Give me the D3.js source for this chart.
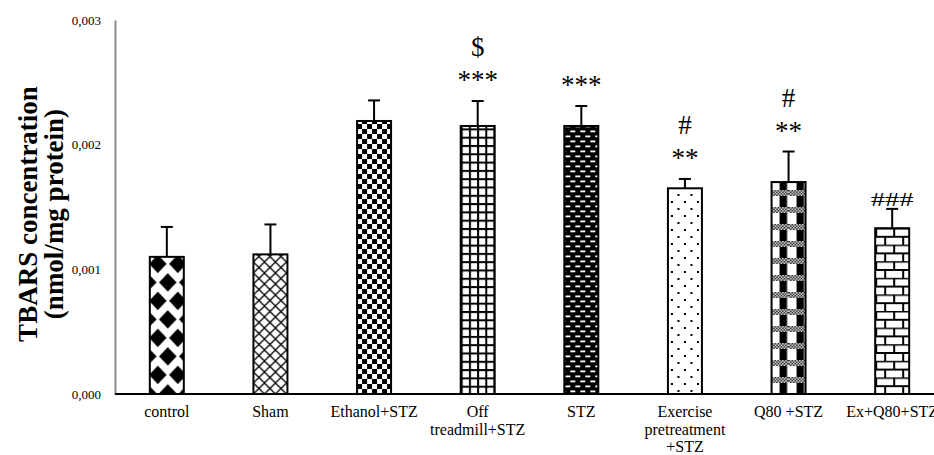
<!DOCTYPE html>
<html><head><meta charset="utf-8">
<script src="https://cdn.jsdelivr.net/npm/d3@7"></script>
<style>body{margin:0;background:#fff}svg{display:block}</style>
</head><body><svg id="chart" width="934" height="455"></svg>
<script>
const categories = ["control","Sham","Ethanol+STZ","Off treadmill+STZ","STZ","Exercise pretreatment +STZ","Q80 +STZ","Ex+Q80+STZ"];
const labelLines = [["control"],["Sham"],["Ethanol+STZ"],["Off","treadmill+STZ"],["STZ"],["Exercise","pretreatment","+STZ"],["Q80 +STZ"],["Ex+Q80+STZ"]];
const means  = [0.00110, 0.00112, 0.00219, 0.00215, 0.00215, 0.00165, 0.00170, 0.00133];
const errors = [0.00024, 0.00024, 0.000165, 0.00020, 0.00016, 0.000075, 0.000245, 0.000155];
const stars  = ["", "", "", "***", "***", "**", "**", ""];
const marks2 = ["", "", "", "$", "", "#", "#", "###"];
const yTicks = [0, 0.001, 0.002, 0.003];
const yTickLabels = ["0,000", "0,001", "0,002", "0,003"];

const svg = d3.select("#chart");
const serif = "'Liberation Serif','Times New Roman',serif";
const mLeft = 115, mRight = 944, mTop = 20, mBottom = 394;

const x = d3.scaleBand().domain(categories).range([mLeft, mRight]).paddingInner(0.672).paddingOuter(0.336);
const y = d3.scaleLinear().domain([0, 0.003]).range([mBottom, mTop]);

const defs = svg.append("defs");
function pat(id, w, h, i, oy) {
  const bx = x(categories[i]);
  return defs.append("pattern").attr("id", id).attr("patternUnits", "userSpaceOnUse")
    .attr("x", bx).attr("y", oy === undefined ? mBottom : oy).attr("width", w).attr("height", h);
}
// 0 diamond
{ const p = pat("p0", 20, 37, 0, y(means[0]) - 2);
  p.append("rect").attr("width",20).attr("height",37).attr("fill","#fff");
  const dia = (cx,cy)=>`M${cx-8.8},${cy}L${cx},${cy-9.2}L${cx+8.8},${cy}L${cx},${cy+9.2}Z`;
  [[8,9],[18,27.5],[-2,27.5],[28,9],[8,46],[18,-9.5],[-2,-9.5]].forEach(c=>p.append("path").attr("d",dia(c[0],c[1])).attr("fill","#000"));
}
// 1 crosshatch
{ const p = pat("p1", 11, 11, 1);
  p.append("rect").attr("width",11).attr("height",11).attr("fill","#fff");
  p.append("path").attr("d","M-1,-1L12,12M12,-1L-1,12").attr("stroke","#000").attr("stroke-width",1.3);
}
// 2 checker
{ const p = pat("p2", 10, 10, 2);
  p.append("rect").attr("width",10).attr("height",10).attr("fill","#fff");
  p.append("rect").attr("width",5).attr("height",5).attr("fill","#000");
  p.append("rect").attr("x",5).attr("y",5).attr("width",5).attr("height",5).attr("fill","#000");
}
// 3 grid
{ const p = pat("p3", 8.2, 8.3, 3);
  p.append("rect").attr("width",8.2).attr("height",8.3).attr("fill","#fff");
  p.append("rect").attr("width",8.2).attr("height",2).attr("fill","#000");
  p.append("rect").attr("width",2).attr("height",8.3).attr("fill","#000");
}
// 4 dash (black with white dashes)
{ const p = pat("p4", 10, 10, 4);
  p.append("rect").attr("width",10).attr("height",10).attr("fill","#000");
  p.append("rect").attr("x",1).attr("y",1.5).attr("width",5).attr("height",1.8).attr("fill","#fff");
  p.append("rect").attr("x",6).attr("y",6.5).attr("width",5).attr("height",1.8).attr("fill","#fff");
  p.append("rect").attr("x",-4).attr("y",6.5).attr("width",5).attr("height",1.8).attr("fill","#fff");
}
// 5 dots
{ const p = pat("p5", 13, 14, 5);
  p.append("rect").attr("width",13).attr("height",14).attr("fill","#fff");
  p.append("rect").attr("x",3).attr("y",3).attr("width",2).attr("height",2).attr("fill","#000");
  p.append("rect").attr("x",9.5).attr("y",10).attr("width",2).attr("height",2).attr("fill","#000");
}
// 6 plaid
{ const p = pat("p6", 17, 17, 6);
  p.append("rect").attr("width",17).attr("height",17).attr("fill","#fff");
  for (let i = 0; i < 17; i += 1.5) for (let j = 0; j < 6; j += 1.5) {
    if ((Math.round(i/1.5) + Math.round(j/1.5)) % 2 === 0)
      p.append("rect").attr("x",i).attr("y",j).attr("width",1.5).attr("height",1.5).attr("fill","#000");
  }
  p.append("rect").attr("x",8).attr("y",6).attr("width",7.5).attr("height",11).attr("fill","#000");
}
// 7 brick
{ const p = pat("p7", 18, 16.6, 7);
  p.append("rect").attr("width",18).attr("height",16.6).attr("fill","#fff");
  p.append("path").attr("d","M0,0.5H18M0,8.8H18M1,0V8.3M10,8.3V16.6").attr("stroke","#000").attr("stroke-width",2);
}

// y axis
const yAxis = d3.axisLeft(y).tickValues(yTicks).tickFormat((d,i)=>yTickLabels[i]).tickSize(0).tickPadding(14);
const gy = svg.append("g").attr("transform",`translate(${mLeft},0)`).call(yAxis);
gy.select(".domain").attr("stroke","#8c8c8c").attr("stroke-width",2);
gy.selectAll("text").attr("font-family",serif).attr("font-size",13).attr("fill","#000");

// bars
const bars = svg.append("g");
categories.forEach((c,i)=>{
  const bx = x(c), bw = x.bandwidth(), cx = bx + bw/2;
  const top1 = y(means[i] + errors[i]);
  bars.append("line").attr("x1",cx).attr("x2",cx).attr("y1",y(means[i])).attr("y2",top1).attr("stroke","#000").attr("stroke-width",2);
  bars.append("line").attr("x1",cx-6).attr("x2",cx+6).attr("y1",top1).attr("y2",top1).attr("stroke","#000").attr("stroke-width",2);
  bars.append("rect").attr("x",bx).attr("y",y(means[i])).attr("width",bw).attr("height",y(0)-y(means[i]))
    .attr("fill",`url(#p${i})`).attr("stroke","#000").attr("stroke-width",2);
});

// x axis line
svg.append("line").attr("x1",mLeft).attr("x2",934).attr("y1",mBottom).attr("y2",mBottom).attr("stroke","#000").attr("stroke-width",2);

// x labels
const xl = svg.append("g").attr("font-family",serif).attr("font-size",16).attr("text-anchor","middle");
categories.forEach((c,i)=>{
  const t = xl.append("text").attr("x",x(c)+x.bandwidth()/2).attr("y",417);
  labelLines[i].forEach((ln,k)=>t.append("tspan").attr("x",x(c)+x.bandwidth()/2).attr("dy",k===0?0:17.5).text(ln));
});

// annotations
const ann = svg.append("g").attr("font-family",serif).attr("text-anchor","middle").attr("fill","#000");
categories.forEach((c,i)=>{
  const cx = x(c) + x.bandwidth()/2;
  const capY = y(means[i] + errors[i]);
  if (stars[i]) {
    const sb = capY - 12;
    ann.append("text").attr("x",cx).attr("y",sb).attr("font-size",27).text(stars[i]);
    if (marks2[i]) ann.append("text").attr("x",cx).attr("y",sb-33).attr("font-size",27).text(marks2[i]);
  } else if (marks2[i]) {
    ann.append("text").attr("transform",`translate(${cx},${capY-3}) scale(1.5,1)`).attr("font-size",19).text(marks2[i]);
  }
});

// y title
const yt = svg.append("g").attr("font-family",serif).attr("font-weight","bold").attr("font-size",27).attr("text-anchor","middle");
yt.append("text").attr("transform","translate(37,214) rotate(-90)").text("TBARS concentration");
yt.append("text").attr("transform","translate(63,214) rotate(-90)").text("(nmol/mg protein)");
</script></body></html>
